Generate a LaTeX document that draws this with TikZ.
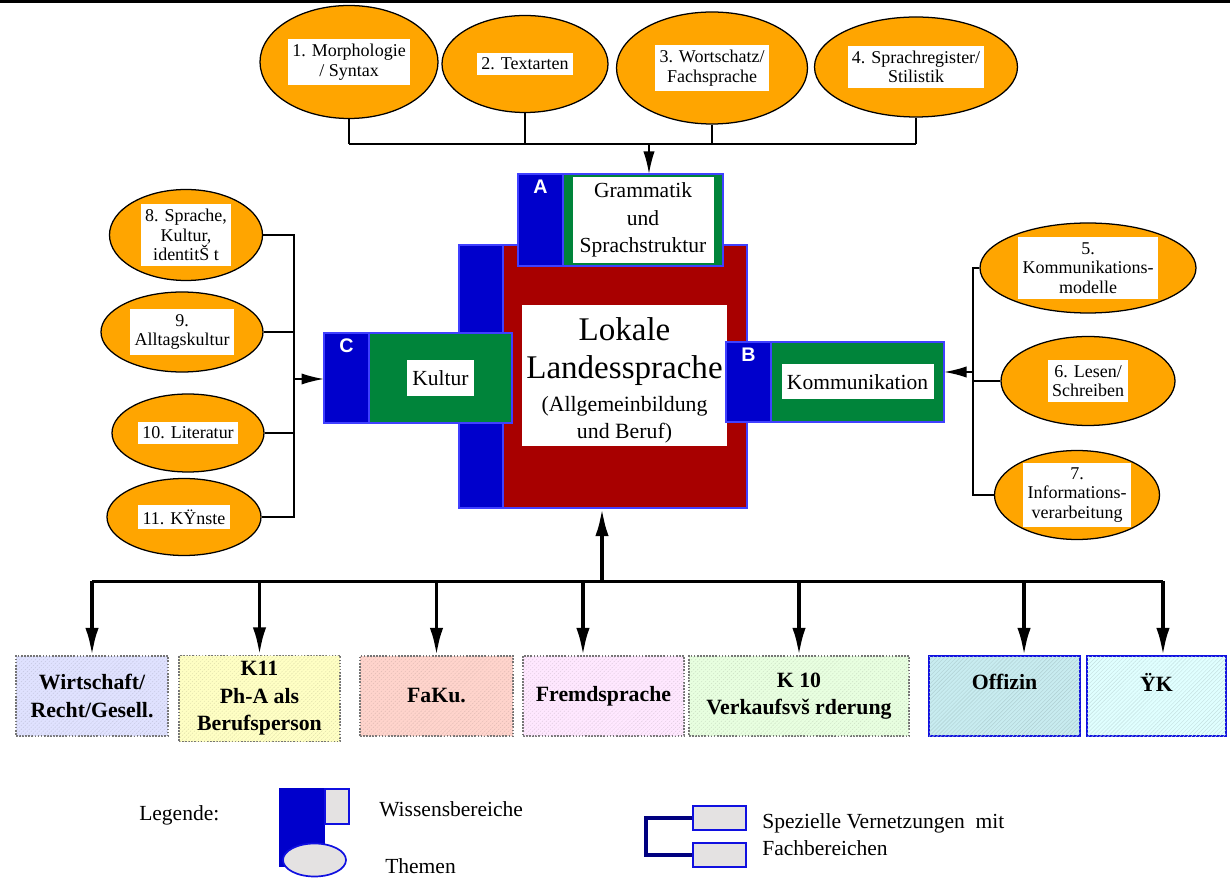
\documentclass[tikz,border=0pt]{standalone}
\usepackage{fontspec}
\setmainfont{Liberation Serif}
\newfontfamily\buchstfont{Liberation Sans}
\usetikzlibrary{positioning,shapes.geometric,arrows.meta,patterns.meta}

\definecolor{themaorange}{HTML}{FFA500}
\definecolor{wbblau}{HTML}{0000CC}
\definecolor{wbrand}{HTML}{4040FF}
\definecolor{wbgruen}{HTML}{00843A}
\definecolor{zrot}{HTML}{A80000}
\definecolor{leggrau}{HTML}{E4E2E2}
\definecolor{vernetz}{HTML}{000080}
\definecolor{fachrand}{HTML}{1010E0}
\definecolor{fwirt}{HTML}{E0E2FF}
\definecolor{fkelf}{HTML}{FFFFC4}
\definecolor{ffaku}{HTML}{FFD4CC}
\definecolor{ffremd}{HTML}{FFE8FF}
\definecolor{fkzehn}{HTML}{E8FFE0}
\definecolor{foffi}{HTML}{C8ECF0}
\definecolor{fuek}{HTML}{E0FFFF}

\newcommand{\pu}{0.025cm}
\newcommand{\kleinzeile}{\fontsize{15.5}{19.5}\selectfont}

\tikzset{
  thema/.style={ellipse, draw=black, line width=0.9pt, fill=themaorange, inner sep=0pt},
  tbox/.style={fill=white, align=center, inner xsep=3pt, inner ysep=3.5pt, font=\fontsize{12.8}{14}\selectfont},
  blau/.style={rectangle, fill=wbblau, draw=wbrand, line width=0.8pt, inner sep=0pt, outer sep=0pt},
  gruen/.style={blau, fill=wbgruen},
  rot/.style={blau, fill=zrot},
  weiss/.style={fill=white, align=center, inner sep=2pt, font=\fontsize{15.3}{19.5}\selectfont},
  buchst/.style={text=white, inner sep=1pt, font=\buchstfont\bfseries\fontsize{14}{14}\selectfont},
  duenn/.style={line width=0.9pt},
  balken/.style={line width=1.6pt},
  pfeil/.style={line width=1.3pt, -{Latex[length=16pt,width=8pt]}},
  fpfeil/.style={line width=2.8pt, -{Latex[length=20pt,width=9.5pt]}},
  fach/.style={rectangle, draw=black!55, densely dotted, line width=1.2pt, fill=#1,
    postaction={pattern={Lines[angle=45,distance=2pt,line width=0.3pt]}, pattern color=#1!88!black},
    align=center, inner sep=0pt, outer sep=0pt, font=\bfseries\fontsize{15.5}{19.5}\selectfont},
  fachb/.style={fach=#1, draw=fachrand, solid, line width=1.5pt},
  legtext/.style={inner sep=0pt, font=\fontsize{15.3}{19}\selectfont},
  legbox/.style={rectangle, fill=leggrau, draw=fachrand, line width=1.2pt, inner sep=0pt},
}

\begin{document}
\begin{tikzpicture}[x=0.025cm, y=-0.025cm]
\useasboundingbox (0,0) rectangle (1230,878);
\draw[line width=2.2pt] (0,1.5) -- (1230,1.5);

% Themen oben
\node[thema, minimum width=178*\pu, minimum height=113*\pu] (t1) at (349,62) {};
\node[tbox] (t1x) at (t1) {1. Morphologie\\/ Syntax};
\node[thema, minimum width=166*\pu, minimum height=97*\pu] (t2) at (525,64) {};
\node[tbox] (t2x) at (t2) {2. Textarten};
\node[thema, minimum width=191*\pu, minimum height=112*\pu] (t3) at (712,68) {};
\node[tbox] (t3x) at (t3) {3. Wortschatz/\\Fachsprache};
\node[thema, minimum width=203*\pu, minimum height=100*\pu] (t4) at (916,67) {};
\node[tbox] (t4x) at (t4) {4. Sprachregister/\\Stilistik};

% Themen rechts
\node[thema, minimum width=216*\pu, minimum height=90*\pu] (t5) at (1088,268) {};
\node[tbox] (t5x) at (t5) {5.\\Kommunikations-\\modelle};
\node[thema, minimum width=174*\pu, minimum height=89*\pu] (t6) at (1088,381) {};
\node[tbox] (t6x) at (t6) {6. Lesen/\\Schreiben};
\node[thema, minimum width=165*\pu, minimum height=89*\pu] (t7) at (1077,495) {};
\node[tbox] (t7x) at (t7) {7.\\Informations-\\verarbeitung};

% Themen links
\node[thema, minimum width=153*\pu, minimum height=91*\pu] (t8) at (186,235) {};
\node[tbox] (t8x) at (t8) {8. Sprache,\\Kultur,\\identitŠ t};
\node[thema, minimum width=162*\pu, minimum height=80*\pu] (t9) at (182,332) {};
\node[tbox] (t9x) at (t9) {9.\\Alltagskultur};
\node[thema, minimum width=152*\pu, minimum height=78*\pu] (t10) at (188,433) {};
\node[tbox] (t10x) at (t10) {10. Literatur};
\node[thema, minimum width=154*\pu, minimum height=77*\pu] (t11) at (184,517) {};
\node[tbox] (t11x) at (t11) {11. KŸnste};

% Kern
\node[rot, minimum width=244*\pu, minimum height=263*\pu] (Z) at (625,376.5) {};
\node[blau, minimum width=44*\pu, minimum height=263*\pu, left=0pt of Z] (Zb) {};
\node[weiss, font=\fontsize{23.5}{27}\selectfont, minimum width=205*\pu, minimum height=141*\pu] (Zx) at (624.5,375.5)
  {\rule{0pt}{23.5pt}Lokale\\Landessprache\\[-3.5pt]\kleinzeile(Allgemeinbildung\\[-7.5pt]\kleinzeile und Beruf)};

% Wissensbereiche
\node[gruen, minimum width=160*\pu, minimum height=92*\pu] (A) at (643,220) {};
\node[blau, minimum width=45*\pu, minimum height=92*\pu, left=0pt of A] (Ab) {};
\node[weiss, minimum width=141*\pu, minimum height=86*\pu] (Ax) at (A) {Grammatik\\und\\Sprachstruktur};
\node[buchst, below=3pt of Ab.north] (Al) {A};

\node[gruen, minimum width=173*\pu, minimum height=80*\pu] (B) at (857.5,382) {};
\node[blau, minimum width=45*\pu, minimum height=80*\pu, left=0pt of B] (Bb) {};
\node[weiss, minimum width=152*\pu, minimum height=35*\pu] (Bx) at (B) {Kommunikation};
\node[buchst, below=3pt of Bb.north] (Bl) {B};

\node[gruen, minimum width=143*\pu, minimum height=90*\pu] (C) at (440.5,378) {};
\node[blau, minimum width=45*\pu, minimum height=90*\pu, left=0pt of C] (Cb) {};
\node[weiss, minimum width=67*\pu, minimum height=36*\pu] (Cx) at (C) {Kultur};
\node[buchst, below=3pt of Cb.north] (Cl) {C};

% Verbindungen
\coordinate (ja) at (649,144);
\foreach \t in {t1,t2,t3,t4} \draw[duenn] (\t.south) -- (\t.south |- ja);
\draw[balken] (t1.south |- ja) -- (t4.south |- ja);
\draw[pfeil] (ja) -- (ja |- A.north);

\coordinate (jl) at (294,379);
\foreach \t in {t8,t9,t10,t11} \draw[duenn] (\t.east) -| (jl);
\draw[pfeil] (jl) -- (jl -| Cb.west);

\coordinate (jr) at (973,372);
\foreach \t in {t5,t6,t7} \draw[duenn] (\t.west) -| (jr);
\draw[pfeil] (jr) -- (jr -| B.east);

% Fachbereiche
\node[fach=fwirt, minimum width=152*\pu, minimum height=80*\pu] (f1) at (92,696) {Wirtschaft/\\Recht/Gesell.};
\node[fach=fkelf, minimum width=161*\pu, minimum height=86*\pu] (f2) at (259.5,698.5) {K11\\Ph-A als\\Berufsperson};
\node[fach=ffaku, minimum width=153*\pu, minimum height=80*\pu] (f3) at (436.5,696) {FaKu.};
\node[fach=ffremd, minimum width=161*\pu, minimum height=80*\pu] (f4) at (603.5,696) {Fremdsprache};
\node[fach=fkzehn, minimum width=220*\pu, minimum height=80*\pu] (f5) at (799,696) {K 10\\Verkaufsvš rderung};
\node[fachb=foffi, minimum width=151*\pu, minimum height=80*\pu] (f6) at (1004.5,696) {Offizin\\~};
\node[fachb=fuek, minimum width=139*\pu, minimum height=80*\pu] (f7) at (1156.5,696) {ŸK\\~};

\coordinate (jb) at (602,581.5);
\draw[fpfeil] (jb) -- (jb |- Z.south);
\draw[line width=2.8pt] (f1.north |- jb) -- ([xshift=4.6pt]f7.north |- jb);
\foreach \f/\s in {f1/0,f2/0,f3/0,f4/-14.6,f5/0,f6/13.9,f7/4.6}
  \draw[fpfeil] ([xshift=\s pt]\f.north |- jb) -- ([xshift=\s pt]\f.north);

% Legende
\node[legtext, anchor=base west] (leg) at (139,820) {Legende:};
\node[fill=wbblau, inner sep=0pt, minimum width=46*\pu, minimum height=79*\pu] (lb) at (302,827.5) {};
\node[legbox, minimum width=24*\pu, minimum height=35*\pu] (lw) at (337,806.5) {};
\node[ellipse, fill=leggrau, draw=fachrand, line width=1.2pt, inner sep=0pt,
  minimum width=63*\pu, minimum height=33*\pu] (lt) at (314.5,860) {};
\node[legtext, anchor=base west] (lwx) at (379,816) {Wissensbereiche};
\node[legtext, anchor=base west] (ltx) at (385,873) {Themen};

\node[legbox, minimum width=53*\pu, minimum height=24*\pu] (lv1) at (719.5,818) {};
\node[legbox, minimum width=53*\pu, minimum height=24*\pu] (lv2) at (719.5,855) {};
\coordinate (jv) at (646,836);
\draw[vernetz, line width=2.2pt] (lv1.west) -| (jv) |- (lv2.west);
\node[legtext, anchor=base west] (lv1x) at (762,828) {Spezielle Vernetzungen\ \ mit};
\node[legtext, anchor=base west] (lv2x) at (762,855) {Fachbereichen};
\end{tikzpicture}
\end{document}
